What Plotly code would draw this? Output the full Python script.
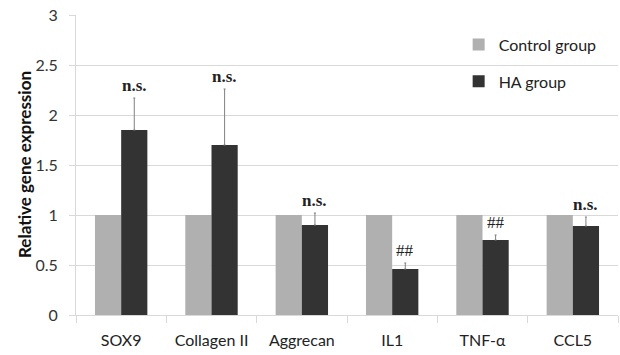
import plotly.graph_objects as go

categories = ["SOX9", "Collagen II", "Aggrecan", "IL1", "TNF-α", "CCL5"]
control_vals = [1, 1, 1, 1, 1, 1]
ha_vals = [1.85, 1.70, 0.90, 0.46, 0.75, 0.89]
ha_err = [0.32, 0.56, 0.12, 0.06, 0.05, 0.09]
sig_labels = ["n.s.", "n.s.", "n.s.", "##", "##", "n.s."]
y_ticks = [0, 0.5, 1, 1.5, 2, 2.5, 3]

FONT = "Lato, 'Open Sans', sans-serif"
bargap = 0.42

fig = go.Figure()
fig.add_trace(go.Bar(x=categories, y=control_vals, name="Control group",
                     marker=dict(color="#b0b0b0", line=dict(width=0)),
                     legendgroup="a"))
fig.add_trace(go.Bar(x=categories, y=ha_vals, name="HA group",
                     marker=dict(color="#333333", line=dict(width=0)),
                     error_y=dict(type="data", array=ha_err, arrayminus=[0]*6,
                                  symmetric=False, color="#808080",
                                  thickness=1, width=1),
                     legendgroup="b"))

off = (1 - bargap) / 4
for i, (v, e, lab) in enumerate(zip(ha_vals, ha_err, sig_labels)):
    bold = lab == "n.s."
    fig.add_annotation(x=i + off, y=v + e, text=f"<b>{lab}</b>" if bold else lab,
                       showarrow=False, yanchor="bottom", yshift=1,
                       font=dict(family="'Liberation Serif', 'Times New Roman', serif",
                                 size=17, color="#222222"))

fig.add_annotation(x=0, y=0.5, xref="paper", yref="paper", xanchor="center",
                   yanchor="middle", xshift=-52, textangle=-90, showarrow=False,
                   text="<b>Relative gene expression</b>",
                   font=dict(family=FONT, size=17, color="#111111"))

fig.update_layout(
    width=620, height=355,
    margin=dict(l=76, r=2, t=15, b=40),
    paper_bgcolor="white", plot_bgcolor="white",
    barmode="group", bargap=bargap, bargroupgap=0,
    font=dict(family=FONT, size=16, color="#222222"),
    showlegend=True,
    legend=dict(x=0.706, y=0.958, xanchor="left", yanchor="top",
                traceorder="grouped", tracegroupgap=13, itemwidth=30,
                font=dict(size=16), bgcolor="rgba(0,0,0,0)"),
    xaxis=dict(type="category", ticks="outside", tickson="boundaries",
               ticklen=7, tickcolor="#d9d9d9", showline=True, linecolor="#d9d9d9",
               showgrid=False, automargin=False, ticklabelstandoff=11,
               tickfont=dict(size=16, color="#222222")),
    yaxis=dict(range=[0, 3], tickvals=y_ticks,
               ticktext=[f"{t:g}" for t in y_ticks],
               showgrid=True, gridcolor="#d9d9d9", gridwidth=1,
               ticks="outside", ticklen=6, tickcolor="#d9d9d9",
               showline=True, linecolor="#d9d9d9", zeroline=False,
               automargin=False, ticklabelstandoff=8,
               tickfont=dict(size=16, color="#333333")),
)

fig.write_html("out.html", config={"displayModeBar": False})

# remove the browser's default 8px body margin so the figure sits at the page origin
with open("out.html", encoding="utf-8") as f:
    html = f.read()
html = html.replace("<body>", '<body style="margin:0">', 1)
with open("out.html", "w", encoding="utf-8") as f:
    f.write(html)
